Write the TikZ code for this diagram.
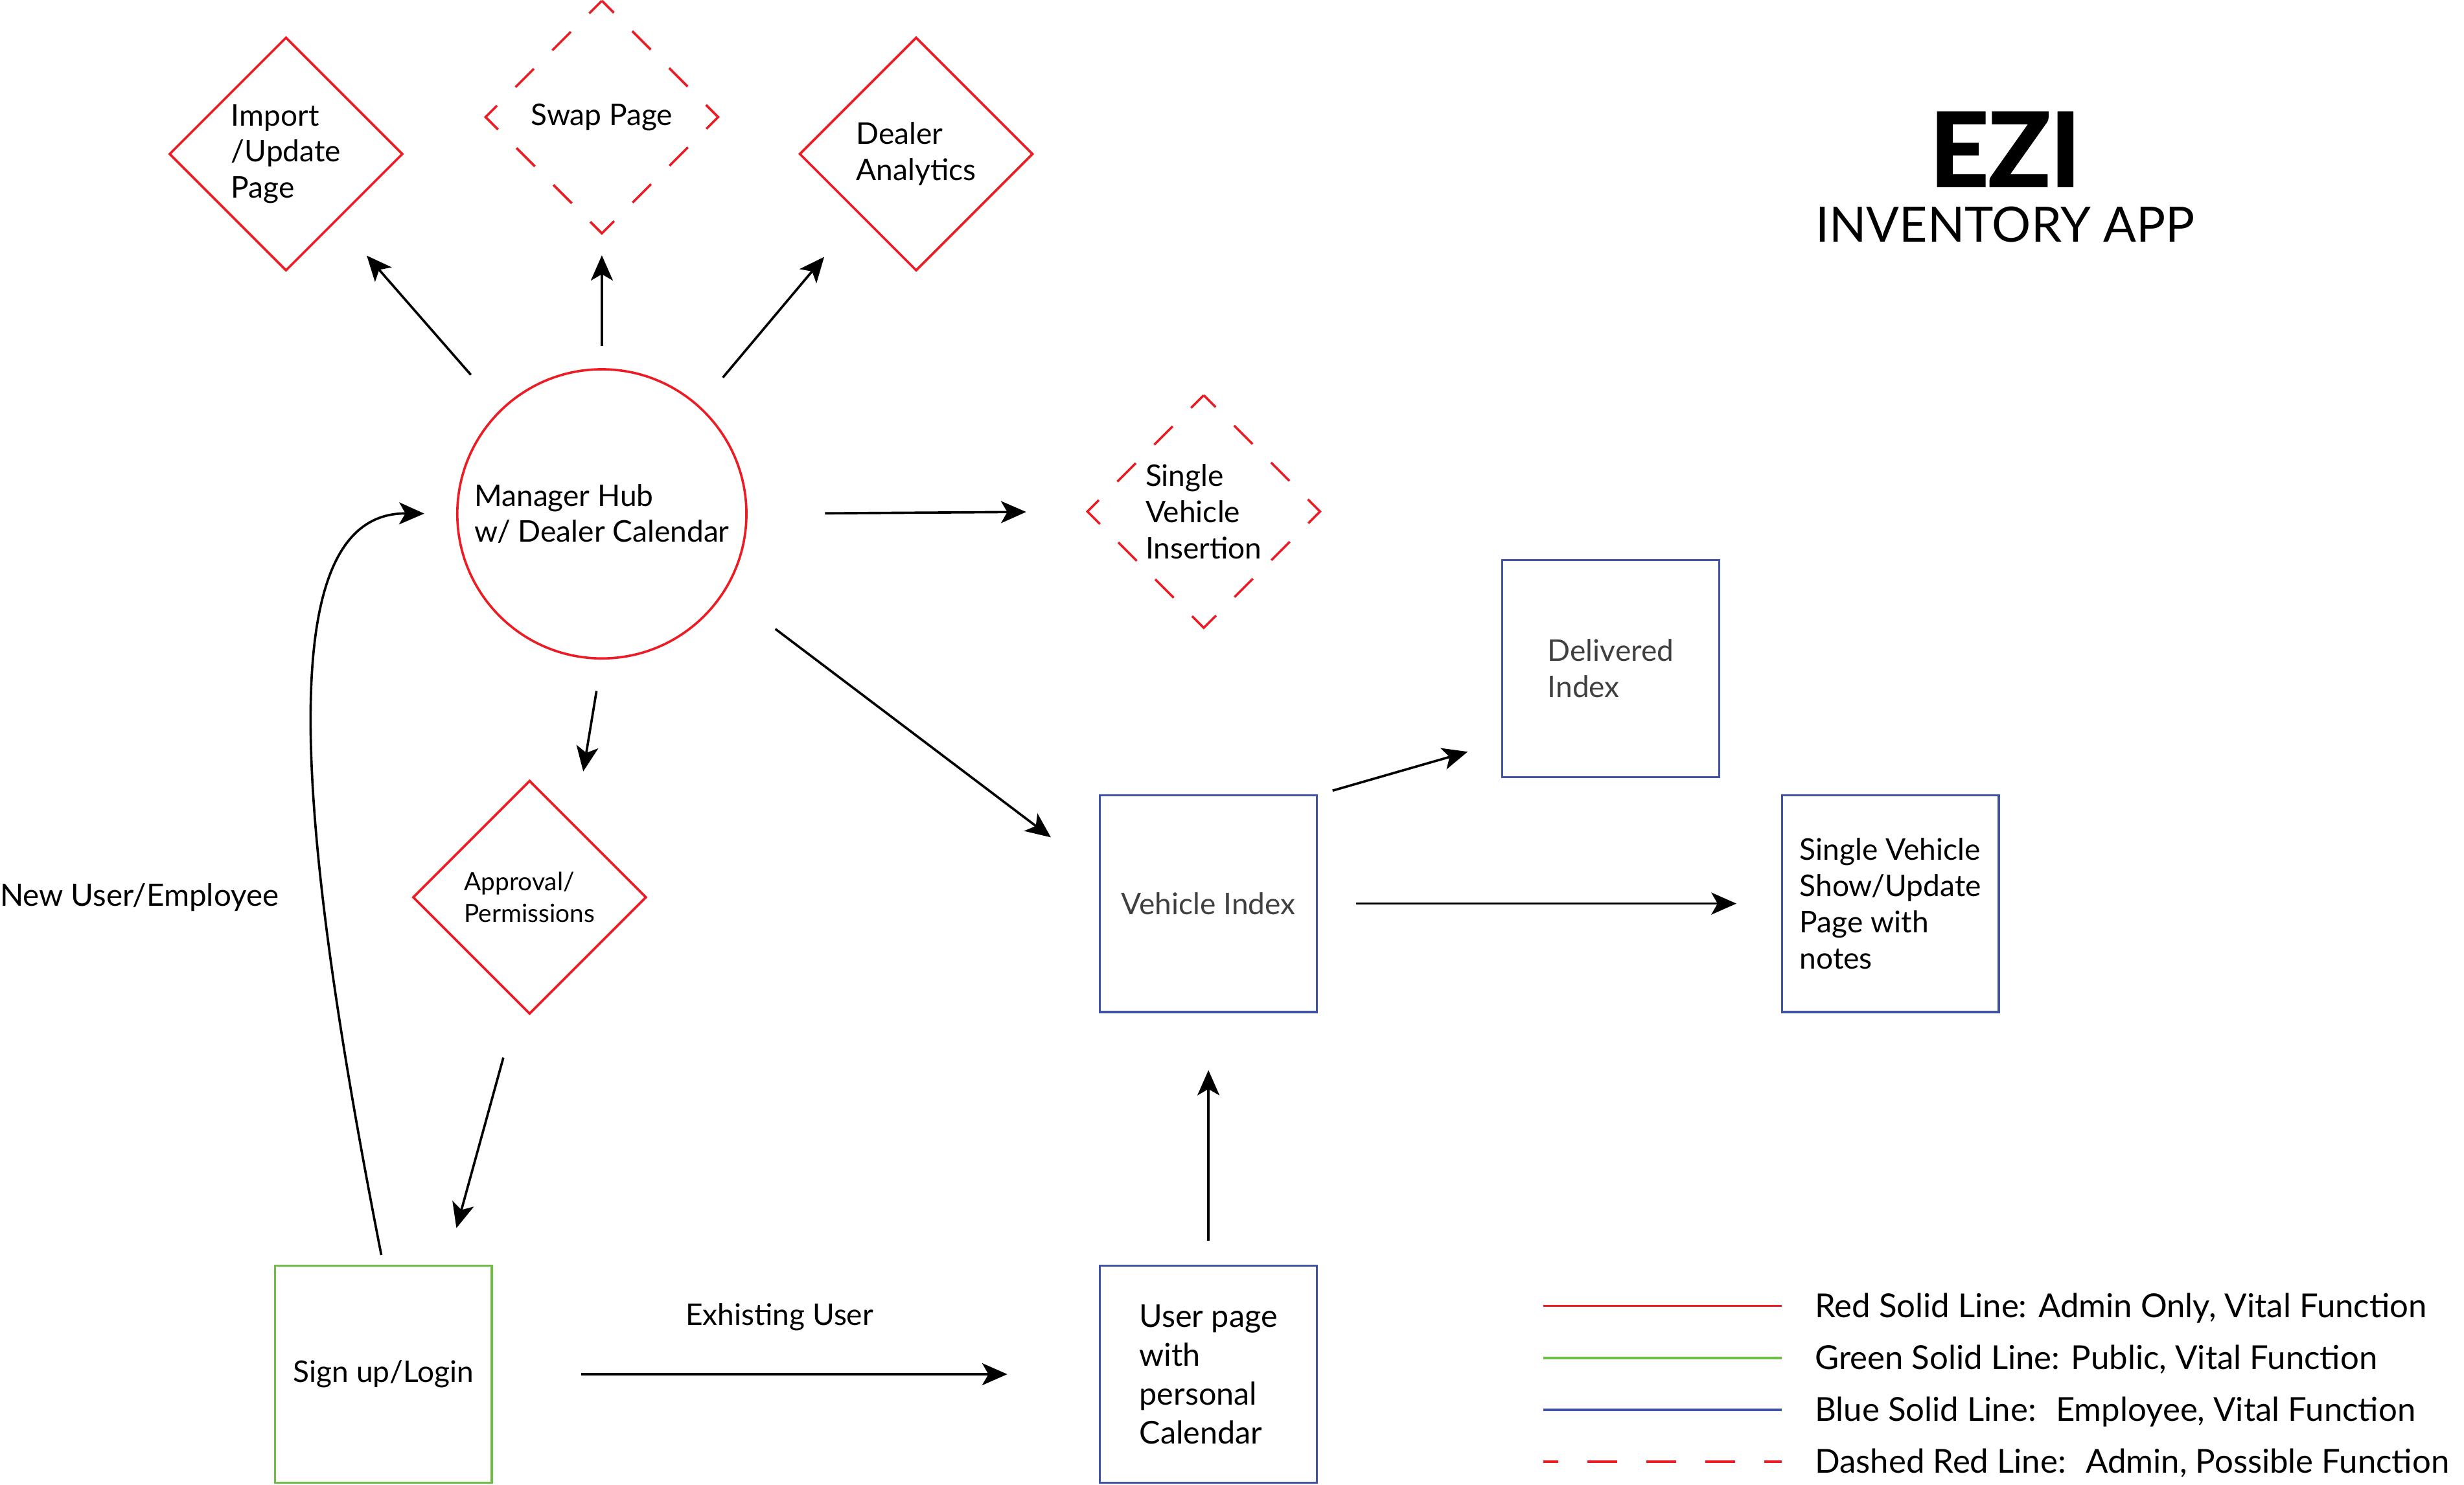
\documentclass[tikz,border=0pt]{standalone}
\usepackage{fontspec}
\setmainfont{Lato}
\newfontfamily\ezifont{Lato}[BoldFeatures={FakeBold=2}]
\usetikzlibrary{shapes.geometric,arrows.meta,calc}
\definecolor{ezred}{RGB}{237,28,36}
\definecolor{ezgreen}{RGB}{110,190,70}
\definecolor{ezblue}{RGB}{64,82,163}
\definecolor{ezgray}{RGB}{64,64,64}
\begin{document}
\begin{tikzpicture}[x=1pt,y=-1pt,
  txt/.style={font=\fontsize{19}{23}\selectfont, align=left, inner sep=0pt, outer sep=0pt},
  legtxt/.style={txt, font=\fontsize{21}{25}\selectfont, anchor=base west},
  rdia/.style={diamond, aspect=1, draw=ezred, line width=1.5pt, minimum size=148pt, txt},
  ddia/.style={diamond, aspect=1, minimum size=148pt, txt},
  reddash/.style={draw=ezred, line width=1.5pt, line join=miter, dash pattern=on 21.5pt off 16.6pt on 16.6pt off 16.6pt on 16.6pt off 16.6pt, dash phase=10.75pt},
  bbox/.style={rectangle, draw=ezblue, line width=1.4pt, minimum width=138pt, minimum height=138pt, txt},
  gbox/.style={rectangle, draw=ezgreen, line width=1.4pt, minimum width=138pt, minimum height=138pt, txt},
  arr/.style={draw=black, line width=1.5pt, -{Stealth[length=16pt,width=14pt,inset=4pt]}},
  legline/.style={line width=1.6pt},
]
\fill[white] (0,0) rectangle (1568,945);
\useasboundingbox (0,0) rectangle (1568,945);

% nodes
\node[rdia] (imp) at (182,98) {Import\\/Update\\Page};
\node[ddia] (swp) at (383,74.5) {Swap Page};
\node[rdia] (dlr) at (583,98) {Dealer\\Analytics};
\node[circle, draw=ezred, line width=1.5pt, minimum size=184pt, txt] (hub) at (383,327) {Manager Hub\\w/ Dealer Calendar};
\node[ddia] (svi) at (766,325.5) {Single\\Vehicle\\Insertion};
\node[rdia, font=\fontsize{16}{20}\selectfont] (apr) at (337,571) {Approval/\\Permissions};
\node[bbox, text=ezgray] (del) at (1025,425.5) {Delivered\\Index};
\node[bbox, text=ezgray] (vix) at (769,575) {Vehicle Index};
\node[bbox] (svs) at (1203,575) {Single Vehicle\\Show/Update\\Page with\\notes};
\node[gbox] (sgn) at (244,874.5) {Sign up/Login};
\node[bbox, font=\fontsize{20}{24.7}\selectfont] (usr) at (769,874.5) {User page\\with\\personal\\Calendar};

% dashed diamond outlines
\draw[reddash] (swp.north) -- (swp.east) -- (swp.south) -- (swp.west) -- cycle;
\draw[reddash] (svi.north) -- (svi.east) -- (svi.south) -- (svi.west) -- cycle;

% labels
\node[txt, font=\fontsize{19.6}{23}\selectfont, anchor=west] (lblnew) at (0,571) {New User/Employee};
\node[txt] (lblex) at (496,838) {Exhisting User};

% title
\node[inner sep=0pt, font=\ezifont\bfseries\fontsize{65}{65}\selectfont] (ezi) at (1276,95) {EZI};
\node[inner sep=0pt, font=\fontsize{31}{31}\selectfont] (inv) at (1276,143) {INVENTORY APP};

% arrows
\draw[arr, shorten <=29.6pt, shorten >=29.8pt] (hub.134.3) -- (imp.-53);
\draw[arr, shorten <=15pt, shorten >=14pt] (hub.north) -- (swp.south);
\draw[arr, shorten <=24pt, shorten >=35.5pt] (hub.48.5) -- (dlr.-133.9);
\draw[arr, shorten <=50pt, shorten >=39pt] (hub.east) -- (svi.west);
\draw[arr, shorten <=21pt, shorten >=35pt] (hub.-90.5) -- (apr.58.2);
\draw[arr, shorten <=40.6pt, shorten >=39.2pt] (hub.-32.4) -- (vix.165.4);
\draw[arr, shorten <=36.4pt, shorten >=24.9pt] (apr.-96) -- (sgn.60.9);
\draw[arr, shorten <=7pt, shorten >=21pt] (sgn.north) .. controls (188,520) and (172,326) .. (hub.west);
\draw[arr, shorten <=57pt, shorten >=59pt] (sgn.east) -- (usr.west);
\draw[arr, shorten <=16pt, shorten >=37pt] (usr.north) -- (vix.south);
\draw[arr, shorten <=10.4pt, shorten >=22.9pt] (vix.45) -- (del.-146.3);
\draw[arr, shorten <=25pt, shorten >=29pt] (vix.east) -- (svs.west);

% legend
\coordinate (l1a) at (982,831); \coordinate (l1b) at (1134,831);
\coordinate (l2a) at (982,864); \coordinate (l2b) at (1134,864);
\coordinate (l3a) at (982,897); \coordinate (l3b) at (1134,897);
\coordinate (l4a) at (982,930); \coordinate (l4b) at (1134,930);
\draw[legline, draw=ezred] (l1a) -- (l1b);
\draw[legline, draw=ezgreen] (l2a) -- (l2b);
\draw[legline, draw=ezblue] (l3a) -- (l3b);
\draw[legline, draw=ezred, dash pattern=on 19pt off 18.5pt, dash phase=9.5pt] (l4a) -- (l4b);
\node[legtxt] (leg1) at (1155,838.5) {Red Solid Line: Admin Only, Vital Function};
\node[legtxt] (leg2) at (1155,871.5) {Green Solid Line: Public, Vital Function};
\node[legtxt] (leg3) at (1155,904.5) {Blue Solid Line:~ Employee, Vital Function};
\node[legtxt] (leg4) at (1155,937.5) {Dashed Red Line:~ Admin, Possible Function};
\end{tikzpicture}
\end{document}
